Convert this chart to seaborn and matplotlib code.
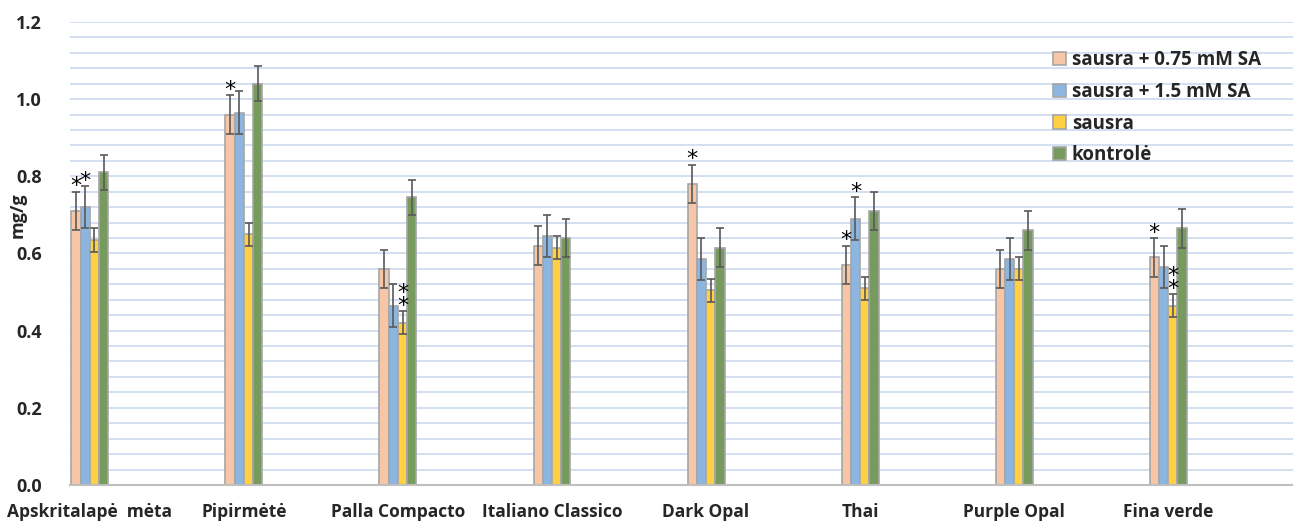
import numpy as np
import pandas as pd
import seaborn as sns
from matplotlib import pyplot as plt
from matplotlib.ticker import MultipleLocator

# duomenys
veisles = ['Apskritalapė  mėta', 'Pipirmėtė', 'Palla Compacto', 'Italiano Classico',
           'Dark Opal', 'Thai', 'Purple Opal', 'Fina verde']
grupes = ['sausra + 0.75 mM SA', 'sausra + 1.5 mM SA', 'sausra', 'kontrolė']
sa075 = [0.71, 0.96, 0.56, 0.62, 0.78, 0.57, 0.56, 0.59]
sa15 = [0.72, 0.965, 0.465, 0.645, 0.585, 0.69, 0.585, 0.565]
sausra = [0.635, 0.65, 0.42, 0.615, 0.505, 0.51, 0.56, 0.465]
kontrole = [0.81, 1.04, 0.745, 0.64, 0.615, 0.71, 0.66, 0.665]
err075 = [0.05, 0.05, 0.05, 0.05, 0.05, 0.05, 0.05, 0.05]
err15 = [0.055, 0.055, 0.055, 0.055, 0.055, 0.055, 0.055, 0.055]
err_s = [0.03, 0.03, 0.03, 0.03, 0.03, 0.03, 0.03, 0.03]
err_k = [0.045, 0.045, 0.045, 0.05, 0.05, 0.05, 0.05, 0.05]
# žvaigždutės (reikšmingumas): kiek * virš stulpelio
zv075 = [1, 1, 0, 0, 1, 1, 0, 1]
zv15 = [1, 0, 0, 0, 0, 1, 0, 0]
zv_s = [0, 0, 2, 0, 0, 0, 0, 2]
zv_k = [0, 0, 0, 0, 0, 0, 0, 0]

spalvos = ['#F6C6A6', '#8CB6E0', '#FFD044', '#779B5E']

vertes = [sa075, sa15, sausra, kontrole]
klaidos = [err075, err15, err_s, err_k]
zvaigzdes = [zv075, zv15, zv_s, zv_k]

df = pd.DataFrame({
    'veisle': np.tile(veisles, 4),
    'grupe': np.repeat(grupes, len(veisles)),
    'verte': np.concatenate(vertes),
})

sns.set_style('white')
plt.rcParams['font.family'] = ['Open Sans', 'DejaVu Sans']
plt.rcParams['font.weight'] = 'bold'

fig = plt.figure(figsize=(12.93, 5.22), dpi=100)
ax = fig.add_axes([0.054, 0.071, 0.946, 0.887])

sns.barplot(data=df, x='veisle', y='verte', hue='grupe', order=veisles, hue_order=grupes,
            palette=spalvos, width=0.24, edgecolor='#A6A6A6', linewidth=1.2,
            saturation=1, errorbar=None, ax=ax)

# klaidų juostos ir žvaigždutės
for cont, err, zv in zip(ax.containers, klaidos, zvaigzdes):
    for bar, e, z in zip(cont, err, zv):
        xc = bar.get_x() + bar.get_width() / 2
        h = bar.get_height()
        ax.errorbar(xc, h, yerr=e, fmt='none', ecolor='#595959', elinewidth=1.2,
                    capsize=3, capthick=1.2, zorder=5)
        if z > 0:
            ax.text(xc, h + e - 0.012, '\n'.join(['*'] * z), ha='center', va='bottom',
                    fontsize=16, color='black', fontweight='normal',
                    family='DejaVu Sans', linespacing=0.55, zorder=6)

ax.set_ylim(0, 1.2)
ax.set_xlim(-0.13, 7.81)
ax.yaxis.set_major_locator(MultipleLocator(0.2))
ax.yaxis.set_minor_locator(MultipleLocator(0.04))
ax.yaxis.set_major_formatter(plt.FormatStrFormatter('%.1f'))
ax.grid(axis='y', which='both', color='#C7D6EE', linewidth=1.1)
ax.set_axisbelow(True)

for s in ['top', 'right', 'left']:
    ax.spines[s].set_visible(False)
ax.spines['bottom'].set_color('#BFBFBF')
ax.spines['bottom'].set_linewidth(1.5)

ax.tick_params(axis='x', length=0, labelsize=12.5, pad=13)
ax.tick_params(axis='y', length=0, labelsize=13, pad=20)
for t in ax.get_xticklabels() + ax.get_yticklabels():
    t.set_fontweight('bold')
ax.set_xlabel('')
ax.set_ylabel('mg/g', fontsize=13, fontweight='bold')
ax.yaxis.set_label_coords(-0.035, 0.583)

ax.legend(loc='upper left', bbox_to_anchor=(0.79, 0.975), frameon=False,
          handlelength=0.7, handleheight=0.7, handletextpad=0.3, labelspacing=0.62,
          prop={'weight': 'bold', 'size': 13.5})

plt.savefig('out.png', dpi=100)
